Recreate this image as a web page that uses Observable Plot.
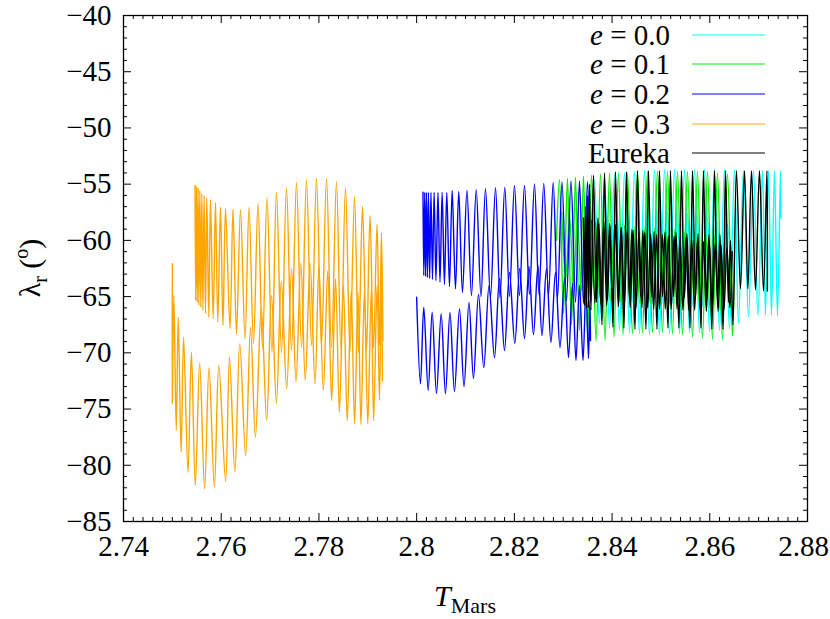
<!DOCTYPE html>
<html>
<head>
<meta charset="utf-8">
<script src="https://cdn.jsdelivr.net/npm/d3@7"></script>
<script src="https://cdn.jsdelivr.net/npm/@observablehq/plot@0.6"></script>
<style>
  html, body { margin: 0; padding: 0; background: #fff; }
  #chart { width: 830px; height: 619px; }
</style>
</head>
<body>
<div id="chart"></div>
<script>
// ---- tick labels ----
const xTicks = [2.74, 2.76, 2.78, 2.8, 2.82, 2.84, 2.86, 2.88];
const yTicks = [-85, -80, -75, -70, -65, -60, -55, -50, -45, -40];

// ---- legend ----
const seriesNames = ["e = 0.0", "e = 0.1", "e = 0.2", "e = 0.3", "Eureka"];
const seriesColors = ["#00ffff", "#00ee00", "#0000ff", "#ffa500", "#000000"];

// ---- data: extrema (peaks / troughs) of each trajectory, [T_Mars, lambda_r] ----
// e = 0.0
const e00 = [[
  [2.83558,-60.0],[2.8364,-54.6],[2.8374,-67.4],[2.83845,-54.3],[2.83947,-67.8],[2.8405,-54.1],[2.8415,-68.0],
  [2.84254,-54.0],[2.84356,-68.2],[2.84458,-53.9],[2.8456,-68.3],[2.84663,-53.8],[2.84765,-68.4],[2.84868,-53.7],
  [2.8497,-68.4],[2.85072,-53.7],[2.85175,-68.3],[2.85277,-53.7],[2.85379,-68.3],[2.85482,-53.7],[2.85584,-68.2],
  [2.85687,-53.7],[2.85789,-68.2],[2.85891,-53.7],[2.85994,-68.1],[2.86096,-53.7],[2.86198,-68.0],[2.86301,-53.7],
  [2.86403,-67.9],[2.86505,-53.7],[2.86587,-67.3],[2.8669,-53.8],[2.86792,-66.8],[2.86894,-53.8],[2.86986,-66.7],
  [2.87078,-53.8],[2.8714,-66.6],[2.87201,-53.8],[2.87263,-66.6],[2.87324,-53.8],[2.87385,-66.7],[2.87447,-53.8],
  [2.87457,-58.0]
],[
  [2.8369,-58.5],[2.8379,-64.5],[2.8390,-57.8],[2.8400,-65.0],[2.8410,-57.5],[2.8420,-65.3],[2.8431,-57.3],
  [2.8441,-65.5],[2.8451,-57.2],[2.8461,-65.6],[2.8472,-57.2],[2.8482,-65.6],[2.8492,-57.3],[2.8502,-65.6],
  [2.8513,-57.4],[2.8523,-65.6],[2.8533,-57.5],[2.8543,-65.7],[2.8554,-57.6],[2.8564,-65.8],[2.8574,-57.8],
  [2.8584,-65.9],[2.8595,-58.0],[2.8605,-66.0],[2.8615,-58.3],[2.8625,-66.0],[2.8636,-58.6],[2.8645,-65.5]
]];
// e = 0.1
const e01 = [[
  [2.82862,-60.0],[2.82923,-54.6],[2.83005,-66.5],[2.83087,-54.5],[2.83169,-67.5],[2.83251,-54.4],[2.83333,-68.0],
  [2.83415,-54.3],[2.83497,-68.6],[2.83578,-54.2],[2.83671,-69.0],[2.83763,-54.1],[2.83855,-68.9],[2.83947,-54.0],
  [2.84039,-68.6],[2.84131,-54.0],[2.84223,-68.4],[2.84315,-54.0],[2.84418,-68.3],[2.8452,-53.9],[2.84622,-68.2],
  [2.84725,-53.9],[2.84827,-68.2],[2.84929,-53.9],[2.85032,-68.2],[2.85134,-53.9],[2.85236,-68.3],[2.85339,-53.9],
  [2.85441,-68.4],[2.85543,-53.9],[2.85646,-68.6],[2.85748,-53.9],[2.8585,-68.7],[2.85953,-53.9],[2.86055,-68.8],
  [2.86157,-54.0],[2.8626,-68.8],[2.86362,-54.1],[2.86464,-68.5],[2.86505,-62.0]
],[
  [2.8297,-57.5],[2.8305,-63.5],[2.8313,-57.8],[2.8321,-64.0],[2.8329,-58.0],[2.8337,-64.5],[2.8346,-58.2],
  [2.8356,-65.0],[2.8366,-58.4],[2.8376,-65.3],[2.8386,-58.5],[2.8396,-65.4],[2.8406,-58.6],[2.8416,-65.5],
  [2.8426,-58.7],[2.8437,-65.5],[2.8447,-58.8],[2.8457,-65.6],[2.8468,-58.8],[2.8478,-65.6],[2.8488,-58.9],
  [2.8498,-65.7],[2.8509,-59.0],[2.8519,-65.8],[2.8529,-59.0],[2.8539,-65.9],[2.8550,-59.1],[2.8560,-66.0],
  [2.8570,-59.2],[2.8580,-66.1],[2.8591,-59.3],[2.8601,-66.2],[2.8611,-59.4],[2.8621,-66.2],[2.8632,-59.6],
  [2.8642,-65.8]
]];
// e = 0.2 (lower branch, upper branch)
const e02 = [[
  [2.8000,-65.05],[2.80078,-72.75],[2.80146,-65.94],[2.80236,-73.35],[2.80318,-66.39],[2.80406,-73.62],[2.80502,-66.53],
  [2.8059,-73.64],[2.80682,-66.41],[2.80774,-73.44],[2.80877,-66.08],[2.80969,-73.0],[2.81071,-65.52],[2.81163,-72.28],
  [2.81266,-64.81],[2.81374,-71.31],[2.81481,-64.01],[2.81593,-70.42],[2.81695,-63.39],[2.81798,-69.79],[2.819,-62.86],
  [2.82009,-69.17],[2.8211,-62.5],[2.82207,-68.73],[2.82299,-62.32],[2.82391,-68.37],[2.82483,-62.23],[2.82565,-68.46],
  [2.82657,-62.5],[2.82749,-69.08],[2.82841,-62.86],[2.82934,-69.53],[2.83026,-63.39],[2.83108,-70.42],[2.8319,-63.84],
  [2.83261,-70.68],[2.83333,-64.01],[2.83405,-70.68],[2.83466,-64.01],[2.83517,-70.5],[2.83547,-65.35],[2.83558,-68.9]
],[
  [2.8013,-55.72],[2.80146,-63.12],[2.80165,-55.72],[2.80183,-63.21],[2.80201,-55.72],[2.80222,-63.30],[2.80242,-55.72],
  [2.80267,-63.39],[2.80293,-55.72],[2.80324,-63.48],[2.80358,-55.72],[2.80395,-63.57],[2.80437,-55.74],[2.80478,-63.72],
  [2.80522,-55.72],[2.80569,-63.92],[2.80617,-55.74],[2.80672,-64.1],[2.80727,-55.56],[2.80795,-64.31],[2.80862,-55.65],
  [2.80938,-64.64],[2.8103,-55.56],[2.81122,-64.9],[2.81219,-55.5],[2.81317,-64.99],[2.81409,-55.41],[2.81511,-65.08],
  [2.81614,-55.32],[2.81706,-65.08],[2.81804,-55.27],[2.819,-64.99],[2.82002,-55.12],[2.82105,-64.9],[2.82207,-55.12],
  [2.82309,-64.81],[2.82412,-54.97],[2.82504,-64.81],[2.82602,-54.91],[2.82699,-64.9],[2.82795,-54.83],[2.82883,-65.17],
  [2.82975,-54.77],[2.83067,-65.35],[2.83159,-54.72],[2.83251,-65.52],[2.83333,-54.72],[2.83415,-65.61],[2.83497,-54.77],
  [2.83558,-65.35]
]];
// e = 0.3 (lower branch, upper branch)
const e03 = [[
  [2.7500,-62.08],[2.7500,-74.51],[2.7503,-64.90],[2.7508,-76.91],[2.7512,-66.83],[2.7518,-78.84],[2.7523,-68.61],
  [2.7532,-80.62],[2.7539,-69.95],[2.7547,-81.80],[2.7556,-70.92],[2.7566,-82.09],[2.7575,-71.33],[2.7586,-81.95],
  [2.7595,-71.13],[2.7609,-81.42],[2.7617,-70.39],[2.7628,-80.62],[2.7638,-69.20],[2.7650,-79.13],[2.7660,-67.72],
  [2.7670,-77.50],[2.7682,-65.94],[2.7693,-76.02],[2.7703,-64.9],[2.7713,-74.5],[2.7723,-63.6],[2.7734,-73.2],
  [2.7744,-62.5],[2.7753,-72.6],[2.7763,-62.0],[2.7772,-72.46],[2.7782,-62.0],[2.7792,-72.76],[2.7800,-62.2],
  [2.7809,-73.35],[2.7818,-62.7],[2.7826,-74.24],[2.7834,-63.4],[2.7842,-75.28],[2.7850,-64.0],[2.7858,-76.02],
  [2.7866,-64.5],[2.7873,-76.31],[2.7880,-64.6],[2.7886,-76.38],[2.7893,-64.6],[2.7900,-76.31],[2.7907,-64.5],
  [2.7912,-76.02],[2.7919,-64.0],[2.7924,-74.24],[2.7928,-62.7],[2.7930,-72.5]
],[
  [2.75463,-55.12],[2.75478,-65.35],[2.75494,-55.21],[2.7551,-65.52],[2.75527,-55.30],[2.75543,-65.79],[2.75562,-55.56],
  [2.75582,-65.97],[2.75603,-55.83],[2.75625,-66.24],[2.7565,-56.01],[2.75678,-66.50],[2.75705,-56.19],[2.75746,-66.83],
  [2.7578,-56.36],[2.75836,-66.95],[2.75883,-56.63],[2.7593,-67.28],[2.75985,-57.05],[2.76036,-67.57],[2.76088,-57.16],
  [2.7618,-67.84],[2.76241,-57.25],[2.76313,-68.31],[2.76395,-57.25],[2.76487,-68.73],[2.76569,-57.07],[2.76661,-69.17],
  [2.76753,-56.72],[2.76845,-69.61],[2.76937,-56.19],[2.77039,-69.97],[2.77131,-55.74],[2.77234,-69.97],[2.77336,-55.30],
  [2.77438,-69.79],[2.77541,-54.85],[2.77643,-69.53],[2.77745,-54.59],[2.77848,-69.35],[2.7795,-54.50],[2.78052,-69.35],
  [2.78155,-54.50],[2.78257,-69.53],[2.78359,-54.76],[2.78451,-69.79],[2.78544,-55.30],[2.78636,-69.97],[2.78728,-56.10],
  [2.7881,-69.97],[2.78892,-56.99],[2.78974,-69.79],[2.79045,-57.79],[2.79117,-69.61],[2.79189,-58.59],[2.7924,-69.35],
  [2.7928,-59.30],[2.79311,-68.90]
]];
// Eureka
const eureka = [[
  [2.83415,-58.0],[2.83435,-65.8],[2.83456,-57.0],[2.83476,-66.0],[2.83497,-56.0],[2.83517,-66.0],[2.83538,-55.0],
  [2.83568,-66.2],[2.83619,-54.2],[2.83681,-65.5],[2.83732,-58.5],[2.83793,-67.5],[2.83845,-54.0],[2.83906,-65.3],
  [2.83957,-58.7],[2.84018,-67.7],[2.8407,-53.9],[2.84131,-65.2],[2.84182,-58.9],[2.84243,-67.8],[2.84295,-53.9],
  [2.84356,-65.1],[2.84407,-59.0],[2.84469,-67.9],[2.8452,-53.8],[2.84581,-65.0],[2.84632,-59.1],[2.84694,-67.9],
  [2.84745,-53.8],[2.84806,-65.0],[2.84858,-59.2],[2.84919,-67.9],[2.8497,-53.8],[2.85032,-65.0],[2.85083,-59.3],
  [2.85144,-67.8],[2.85195,-53.8],[2.85257,-65.0],[2.85308,-59.3],[2.85369,-67.8],[2.8542,-53.8],[2.85482,-65.1],
  [2.85533,-59.4],[2.85594,-67.8],[2.85646,-53.8],[2.85707,-65.1],[2.85758,-59.4],[2.85819,-67.8],[2.8587,-53.8],
  [2.85932,-65.2],[2.85983,-59.5],[2.86044,-67.9],[2.86096,-53.8],[2.86157,-65.3],[2.86208,-59.5],[2.8627,-67.9],
  [2.86321,-53.8],[2.86382,-65.5],[2.86423,-60.0],[2.86474,-67.5],[2.86546,-53.8],[2.86628,-64.3],[2.8671,-53.8],
  [2.8678,-64.3],[2.86853,-53.8],[2.86935,-64.4],[2.87017,-53.8],[2.87099,-64.5],[2.8717,-53.8],[2.8718,-64.5]
],[
  [2.8359,-58.2],[2.8365,-65.6],[2.8371,-58.0],[2.8377,-65.7],[2.8383,-58.3],[2.8389,-65.8],[2.8395,-58.5],
  [2.8401,-65.8],[2.8407,-58.6],[2.8413,-65.9],[2.8419,-58.8],[2.8425,-65.9],[2.8431,-59.0],[2.8437,-66.0],
  [2.8443,-59.1],[2.8449,-66.0],[2.8455,-59.2],[2.8461,-66.0],[2.8467,-59.3],[2.8473,-66.0],[2.8479,-59.4],
  [2.8485,-66.1],[2.8491,-59.5],[2.8497,-66.1],[2.8503,-59.5],[2.8509,-66.1],[2.8515,-59.6],[2.8521,-66.1],
  [2.8527,-59.6],[2.8533,-66.1],[2.8539,-59.7],[2.8545,-66.2],[2.8551,-59.8],[2.8557,-66.2],[2.8563,-59.9],
  [2.8569,-66.2],[2.8575,-60.0],[2.8581,-66.2],[2.8587,-60.1],[2.8593,-66.3],[2.8599,-60.2],[2.8605,-66.3],
  [2.8611,-60.3],[2.8617,-66.3],[2.8623,-60.4],[2.8629,-66.2],[2.8635,-60.6],[2.8641,-66.0],[2.8646,-61.0]
]];

// ---- build table ----
const seriesData = [e00, e01, e02, e03, eureka];
const rows = [];
seriesData.forEach((segs, si) => segs.forEach((seg, gi) => seg.forEach(([x, y]) =>
  rows.push({series: seriesNames[si], key: si + "-" + gi, x, y}))));

const W = 830, H = 619;
const mL = 123, mR = 23, mT = 15, mB = 98;
const pw = W - mL - mR, ph = H - mT - mB;
const xMinor = d3.range(2.742, 2.88, 0.002).filter(v => Math.abs(Math.round(v / 0.02) * 0.02 - v) > 1e-6);
const yMinor = d3.range(-84, -40, 1).filter(v => v % 5 !== 0);
const font = "Liberation Serif, Times New Roman, serif";
const fmtY = d => (d < 0 ? "\u2212" + Math.abs(d) : String(d));
const fmtX = d => String(+d.toFixed(2));

const chart = Plot.plot({
  width: W, height: H,
  marginLeft: mL, marginRight: mR, marginTop: mT, marginBottom: mB,
  style: {fontFamily: font, background: "#fff"},
  x: {domain: [2.74, 2.88]},
  y: {domain: [-85, -40]},
  color: {domain: seriesNames, range: seriesColors},
  marks: [
    Plot.line(rows, {x: "x", y: "y", z: "key", stroke: "series", strokeWidth: 1.4, curve: "catmull-rom"}),
    Plot.frame({stroke: "#000", strokeWidth: 1.3}),
    Plot.ruleX(xTicks, {x: d => d, insetTop: ph - 8, stroke: "#000"}),
    Plot.ruleX(xTicks, {x: d => d, insetBottom: ph - 8, stroke: "#000"}),
    Plot.ruleX(xMinor, {x: d => d, insetTop: ph - 4, stroke: "#000"}),
    Plot.ruleX(xMinor, {x: d => d, insetBottom: ph - 4, stroke: "#000"}),
    Plot.ruleY(yTicks, {y: d => d, insetRight: pw - 8, stroke: "#000"}),
    Plot.ruleY(yTicks, {y: d => d, insetLeft: pw - 8, stroke: "#000"}),
    Plot.ruleY(yMinor, {y: d => d, insetRight: pw - 4, stroke: "#000"}),
    Plot.ruleY(yMinor, {y: d => d, insetLeft: pw - 4, stroke: "#000"}),
    Plot.axisX(xTicks.slice(0, -1), {tickSize: 0, tickPadding: 14, fontSize: 29, tickFormat: fmtX, label: null, fill: "#000"}),
    Plot.axisX(xTicks.slice(-1), {tickSize: 0, tickPadding: 14, fontSize: 29, tickFormat: fmtX, label: null, fill: "#000", dx: -4}),
    Plot.axisY(yTicks, {tickSize: 0, tickPadding: 12, fontSize: 29, tickFormat: fmtY, label: null, fill: "#000"})
  ]
});
document.getElementById("chart").appendChild(chart);

// ---- titles and legend as real SVG text ----
const svg = d3.select(chart);
const xt = svg.append("text").attr("x", 465).attr("y", 606).attr("text-anchor", "middle")
  .attr("font-family", font).attr("font-size", 30).attr("fill", "#000");
xt.append("tspan").attr("font-style", "italic").text("T");
xt.append("tspan").attr("font-size", 22).attr("dy", 7).text("Mars");

const yt = svg.append("text").attr("transform", "translate(40,268) rotate(-90)").attr("text-anchor", "middle")
  .attr("font-family", font).attr("font-size", 30).attr("fill", "#000");
yt.append("tspan").text("\u03bb");
yt.append("tspan").attr("font-size", 20).attr("dy", 7).text("r");
yt.append("tspan").attr("dy", -7).text(" (");
yt.append("tspan").attr("font-size", 20).attr("dy", -12).text("o");
yt.append("tspan").attr("dy", 12).text(")");

const legY = [35, 64, 94, 124, 153];
seriesNames.forEach((name, i) => {
  const t = svg.append("text").attr("x", 670).attr("y", legY[i]).attr("dy", "0.35em")
    .attr("text-anchor", "end").attr("font-family", font).attr("font-size", 29).attr("fill", "#000");
  if (name.startsWith("e")) {
    t.append("tspan").attr("font-style", "italic").text("e");
    t.append("tspan").text(name.slice(1));
  } else t.text(name);
  svg.append("line").attr("x1", 692).attr("x2", 765).attr("y1", legY[i]).attr("y2", legY[i])
    .attr("stroke", seriesColors[i]).attr("stroke-width", 1);
});
</script>
</body>
</html>
